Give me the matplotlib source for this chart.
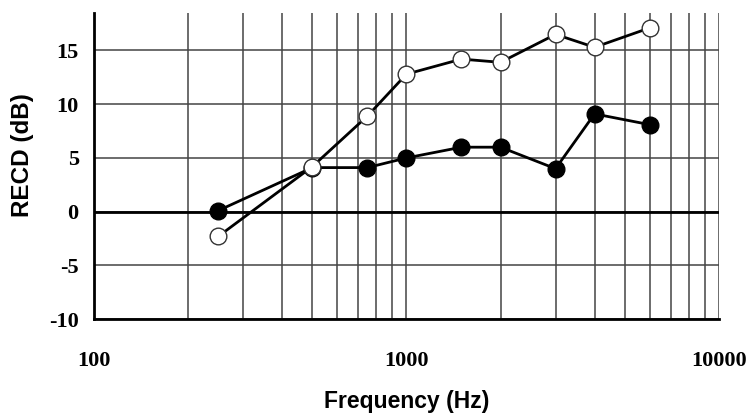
import numpy as np
import matplotlib
matplotlib.use("Agg")
from matplotlib import pyplot as plt
from matplotlib.ticker import FixedLocator, NullFormatter

plt.rcParams["axes.unicode_minus"] = False

# measured points
freqs = [250, 500, 750, 1000, 1500, 2000, 3000, 4000, 6000]
recd_open = [-2.3, 4.2, 8.9, 12.8, 14.2, 13.9, 16.5, 15.3, 17.1]
recd_filled = [0.1, 4.1, 4.1, 5.0, 6.0, 6.0, 4.0, 9.1, 8.1]

x_ticks = [100, 1000, 10000]
x_minor = [200, 300, 400, 500, 600, 700, 800, 900,
           2000, 3000, 4000, 5000, 6000, 7000, 8000, 9000]
y_ticks = [-10, -5, 0, 5, 10, 15]

fig = plt.figure(figsize=(7.52, 4.16), dpi=100)
ax = fig.add_axes([0.125, 0.233, 0.831, 0.736])

ax.set_xscale("log")
ax.set_xlim(100, 10000)
ax.set_ylim(-10, 18.5)

# grid
ax.xaxis.set_major_locator(FixedLocator(x_ticks))
ax.xaxis.set_minor_locator(FixedLocator(x_minor))
ax.xaxis.set_minor_formatter(NullFormatter())
ax.set_xticklabels([str(t) for t in x_ticks])
ax.set_yticks(y_ticks)
ax.set_yticklabels([str(t) for t in y_ticks])
ax.grid(True, which="both", axis="x", color="#444444", lw=1.1)
ax.grid(True, which="major", axis="y", color="#444444", lw=1.1)
ax.axhline(0, color="black", lw=2.0, zorder=2)

ax.plot(freqs, recd_filled, color="black", lw=2.0, marker="o", ms=12,
        mfc="black", mec="black", zorder=3)
ax.plot(freqs, recd_open, color="black", lw=2.0, marker="o", ms=12,
        mfc="white", mec="#333333", mew=1.0, zorder=4)

for s in ["top", "right"]:
    ax.spines[s].set_visible(False)
ax.spines["left"].set_linewidth(2.0)
ax.spines["bottom"].set_linewidth(2.0)

ax.tick_params(axis="both", which="both", length=0)
ax.tick_params(axis="x", pad=23)
ax.tick_params(axis="y", pad=11)
for lab in ax.get_xticklabels() + ax.get_yticklabels():
    lab.set_fontfamily("Liberation Serif")
    lab.set_fontweight("bold")
    lab.set_fontsize(16)

ax.set_xlabel("Frequency (Hz)", fontfamily="Liberation Sans", fontweight="bold",
              fontsize=16.5)
ax.set_ylabel("RECD (dB)", fontfamily="Liberation Sans", fontweight="bold",
              fontsize=17.5)
ax.xaxis.set_label_coords(0.5, -0.27)
ax.yaxis.set_label_coords(-0.115, 0.535)
ax.xaxis.label.set_va("center")
ax.yaxis.label.set_va("center")

fig.savefig("out.png", dpi=100)
